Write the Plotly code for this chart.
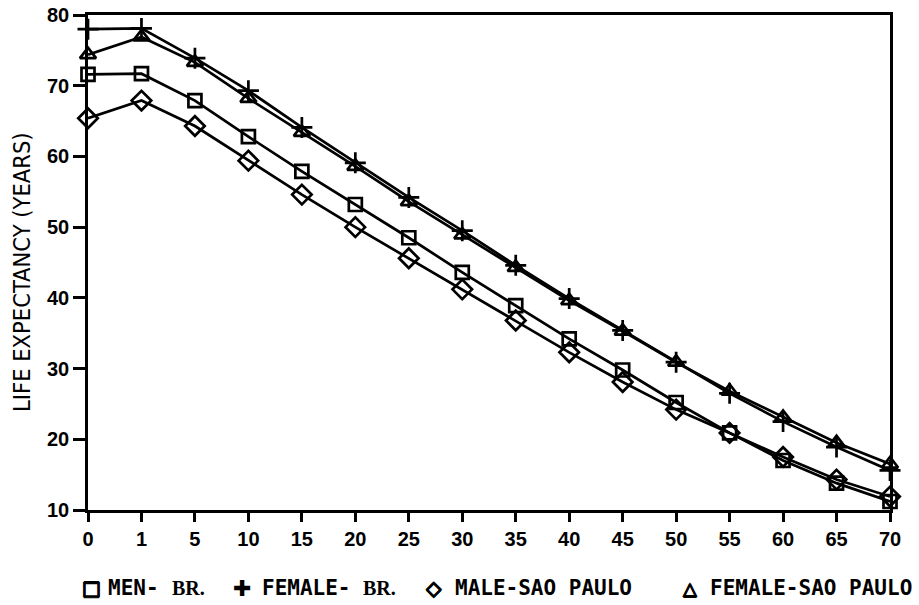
import plotly.graph_objects as go

x_labels = ["0", "1", "5", "10", "15", "20", "25", "30", "35", "40", "45", "50", "55", "60", "65", "70"]
men_br = [71.6, 71.7, 67.9, 62.8, 57.9, 53.2, 48.5, 43.6, 38.9, 34.2, 29.8, 25.2, 20.9, 17.0, 13.8, 11.2]
female_br = [78.0, 78.1, 73.9, 69.3, 64.1, 59.1, 54.2, 49.5, 44.6, 39.9, 35.4, 30.9, 26.5, 22.5, 18.9, 15.6]
male_sp = [65.4, 67.9, 64.3, 59.4, 54.6, 50.0, 45.6, 41.2, 36.8, 32.3, 28.1, 24.2, 20.9, 17.5, 14.3, 11.9]
female_sp = [74.4, 76.9, 73.3, 68.2, 63.4, 58.6, 53.6, 48.9, 44.3, 39.6, 35.3, 30.9, 26.8, 23.1, 19.5, 16.5]
y_ticks = [10, 20, 30, 40, 50, 60, 70, 80]

TICKFONT = "Liberation Sans, Arial, sans-serif"
NARROW = "Liberation Sans Narrow, DejaVu Sans Condensed, Liberation Sans, sans-serif"
LEGFONT = "DejaVu Sans Mono, monospace"
SYMFONT = "DejaVu Sans, sans-serif"
SERIF = "Liberation Serif, serif"
BOLDEN = "0.8px 0 0 black, -0.8px 0 0 black, 0 0.8px 0 black, 0 -0.8px 0 black"

W, H = 919, 605
L, R, T, B = 88, 29, 15, 95
PW, PH = W - L - R, H - T - B

def px(x):
    return (x - L) / PW

def py(y):
    return (H - B - y) / PH

xs = list(range(len(x_labels)))

series = [
    ("MEN- BR.", men_br, "square-open", 13),
    ("FEMALE- BR.", female_br, "cross-thin-open", 15),
    ("MALE-SAO PAULO", male_sp, "diamond-open", 15),
    ("FEMALE-SAO PAULO", female_sp, "triangle-up-open", 14),
]

fig = go.Figure()
for name, ys, sym, sz in series:
    fig.add_trace(go.Scatter(
        x=xs, y=ys, name=name, mode="lines+markers",
        line=dict(color="black", width=2.7),
        marker=dict(symbol=sym, size=sz, color="black",
                    line=dict(color="black", width=2.7)),
        cliponaxis=False, showlegend=False,
    ))

fig.update_layout(
    width=W, height=H,
    margin=dict(l=L, r=R, t=T, b=B),
    paper_bgcolor="white", plot_bgcolor="white",
    font=dict(family=TICKFONT, color="black", size=20),
    xaxis=dict(
        range=[0, len(x_labels) - 1], tickmode="array", tickvals=xs, ticktext=x_labels,
        showgrid=False, zeroline=False, showline=True, linecolor="black", linewidth=2.7,
        mirror=True, ticks="outside", ticklen=9, tickwidth=2.7, tickcolor="black",
        tickfont=dict(family=TICKFONT, size=20, weight="bold"), automargin=False,
    ),
    yaxis=dict(
        range=[10, 80], tickmode="array", tickvals=y_ticks,
        showgrid=False, zeroline=False, showline=True, linecolor="black", linewidth=2.7,
        mirror=True, ticks="outside", ticklen=12, tickwidth=2.7, tickcolor="black",
        tickfont=dict(family=TICKFONT, size=20, weight="bold"), automargin=False,
    ),
)

fig.add_annotation(text="LIFE EXPECTANCY (YEARS)", xref="paper", yref="paper",
                   x=px(22), y=py(272), xanchor="center", yanchor="middle",
                   textangle=-90, showarrow=False,
                   font=dict(family=NARROW, size=23.5))

legend_pieces = [
    ("\u25a1", 81, SYMFONT, 20, "bold", BOLDEN),
    ("MEN-", 107, LEGFONT, 21, "bold", "none"),
    ("BR.", 171, SERIF, 20, "bold", "none"),
    ("\u271a", 232, SYMFONT, 22, "bold", "none"),
    ("FEMALE-", 261, LEGFONT, 21, "bold", "none"),
    ("BR.", 362, SERIF, 20, "bold", "none"),
    ("\u25c7", 425, SYMFONT, 20, "bold", BOLDEN),
    ("MALE-SAO PAULO", 454, LEGFONT, 21, "bold", "none"),
    ("\u25b3", 682, SYMFONT, 18, "bold", BOLDEN),
    ("FEMALE-SAO PAULO", 709, LEGFONT, 21, "bold", "none"),
]
for txt, x0, fam, sz, wt, sh in legend_pieces:
    fig.add_annotation(text=txt, xref="paper", yref="paper", x=px(x0), y=py(588),
                       xanchor="left", yanchor="middle", showarrow=False,
                       borderpad=0,
                       font=dict(family=fam, size=sz, weight=wt, shadow=sh))

fig.write_html("out.html")
